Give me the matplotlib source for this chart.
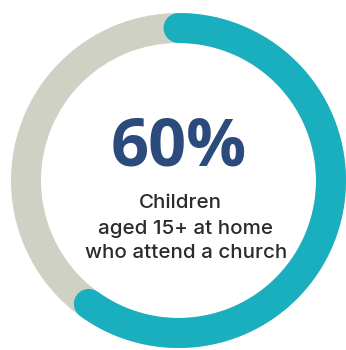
import numpy as np
import matplotlib
matplotlib.use("Agg")
import matplotlib.pyplot as plt
from matplotlib.patches import Wedge

# Share of children aged 15+ at home who attend a church
share_pct = 60
headline = f"{share_pct}%"
caption_lines = ["Children", "aged 15+ at home", "who attend a church"]

TEAL = "#19AFBE"
GREY = "#D0D1C5"
NAVY = "#2A4B7C"
INK = "#2B2B2B"

W, H, DPI = 346, 350, 100
fig = plt.figure(figsize=(W / DPI, H / DPI), dpi=DPI)
ax = fig.add_axes([0, 0, 1, 1])
ax.set_xlim(0, W)
ax.set_ylim(H, 0)
ax.axis("off")

cx, cy = 178.5, 180.5
r_out, thick = 167.5, 30
r_mid = r_out - thick / 2

# background track
ax.add_patch(Wedge((cx, cy), r_out, 0, 360, width=thick, facecolor=GREY, edgecolor="none"))

# progress arc, clockwise from 12 o'clock, round caps
sweep = np.deg2rad(360 * share_pct / 100)
t = np.linspace(0, sweep, 400)
xs = cx + r_mid * np.sin(t)
ys = cy - r_mid * np.cos(t)
lw_pt = thick * 72 / DPI
ax.plot(xs, ys, color=TEAL, lw=lw_pt, solid_capstyle="round")

ax.text(cx + 0.5, 165.5, headline, ha="center", va="baseline", fontsize=48,
        fontweight="bold", color=NAVY, family=["Open Sans", "DejaVu Sans"])

# caption block, lines slightly staggered as typeset
line_x = [cx + 2, cx + 7, cx + 7.5]
line_y = [208, 234, 258]
for x, y, line in zip(line_x, line_y, caption_lines):
    ax.text(x, y, line, ha="center", va="baseline", fontsize=14.8,
            fontweight="medium", color=INK, family=["Inter", "DejaVu Sans"])

fig.savefig("out.png", dpi=DPI, facecolor="white")
